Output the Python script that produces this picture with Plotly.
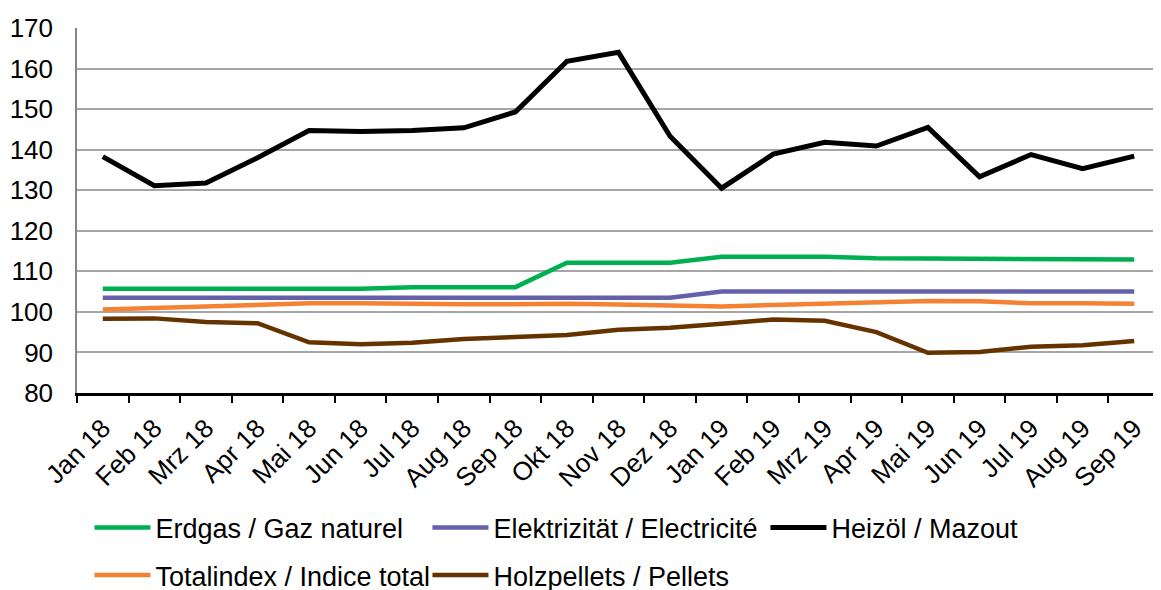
import plotly.graph_objects as go

months = ["Jan 18", "Feb 18", "Mrz 18", "Apr 18", "Mai 18", "Jun 18", "Jul 18", "Aug 18",
          "Sep 18", "Okt 18", "Nov 18", "Dez 18", "Jan 19", "Feb 19", "Mrz 19", "Apr 19",
          "Mai 19", "Jun 19", "Jul 19", "Aug 19", "Sep 19"]

erdgas = [105.7, 105.7, 105.7, 105.7, 105.7, 105.7, 106.1, 106.1, 106.1, 112.1, 112.1, 112.1,
          113.6, 113.6, 113.6, 113.2, 113.1, 113.1, 112.9, 112.9, 112.9]
elektrizitaet = [103.5, 103.5, 103.5, 103.5, 103.5, 103.5, 103.5, 103.5, 103.5, 103.5, 103.5, 103.5,
                 105.0, 105.0, 105.0, 105.0, 105.0, 105.0, 105.0, 105.0, 105.0]
heizoel = [138.3, 131.1, 131.8, 138.0, 144.7, 144.5, 144.7, 145.4, 149.3, 161.8, 164.0, 143.3,
           130.5, 138.9, 141.8, 140.9, 145.5, 133.3, 138.8, 135.3, 138.4]
totalindex = [100.6, 101.0, 101.4, 101.7, 102.1, 102.1, 101.9, 101.9, 101.9, 102.0, 101.8, 101.6,
              101.3, 101.7, 102.1, 102.4, 102.7, 102.6, 102.1, 102.1, 102.0]
holzpellets = [98.3, 98.4, 97.5, 97.2, 92.5, 92.0, 92.4, 93.3, 93.8, 94.3, 95.6, 96.1,
               97.1, 98.1, 97.8, 95.0, 89.9, 90.1, 91.4, 91.8, 92.8]

y_ticks = [80, 90, 100, 110, 120, 130, 140, 150, 160, 170]

FONT = "Liberation Sans, Arial, sans-serif"

series = [
    ("Erdgas / Gaz naturel", erdgas, "#00B050", 4.5, "legend"),
    ("Elektrizität / Electricité", elektrizitaet, "#6460AA", 4.5, "legend"),
    ("Heizöl / Mazout", heizoel, "#000000", 5, "legend"),
    ("Totalindex / Indice total", totalindex, "#F58232", 4.5, "legend2"),
    ("Holzpellets / Pellets", holzpellets, "#663300", 4.5, "legend2"),
]

fig = go.Figure()
for name, vals, color, w, lg in series:
    fig.add_trace(go.Scatter(x=months, y=vals, name=name, mode="lines",
                             line=dict(color=color, width=w), legend=lg))

legend_common = dict(orientation="h", xanchor="left", yanchor="middle",
                     font=dict(family=FONT, size=27, color="#000000"),
                     itemwidth=56, entrywidth=267, entrywidthmode="pixels",
                     bgcolor="rgba(0,0,0,0)", itemclick=False, itemdoubleclick=False)

# the page body adds an 8px offset at the left/top; margins compensate for it
fig.update_layout(
    width=1153, height=590,
    margin=dict(l=69, r=1, t=20, b=205, autoexpand=False),
    paper_bgcolor="white", plot_bgcolor="white",
    font=dict(family=FONT, size=25, color="#000000"),
    showlegend=True,
    legend=dict(x=0.0115, y=-0.37, **legend_common),
    legend2=dict(x=0.0115, y=-0.50, **legend_common),
)

fig.update_xaxes(
    type="category", categoryorder="array", categoryarray=months,
    tickangle=-45, tickson="boundaries", ticks="outside", ticklen=7, tickwidth=2,
    tickcolor="#000000", showline=True, linecolor="#000000", linewidth=2.5,
    showgrid=False, tickfont=dict(family=FONT, size=26, color="#000000"),
    ticklabelstandoff=7,
    range=[-0.5, len(months) - 0.5], automargin=False,
)
fig.update_yaxes(
    range=[80, 170], tickvals=y_ticks, ticktext=[str(v) for v in y_ticks],
    showgrid=True, gridcolor="#A6A6A6", gridwidth=1.5,
    showline=True, linecolor="#868686", linewidth=1.5,
    ticks="", ticklabelstandoff=17, zeroline=False, automargin=False,
    tickfont=dict(family=FONT, size=26, color="#000000"),
)

fig.write_html("out.html")
